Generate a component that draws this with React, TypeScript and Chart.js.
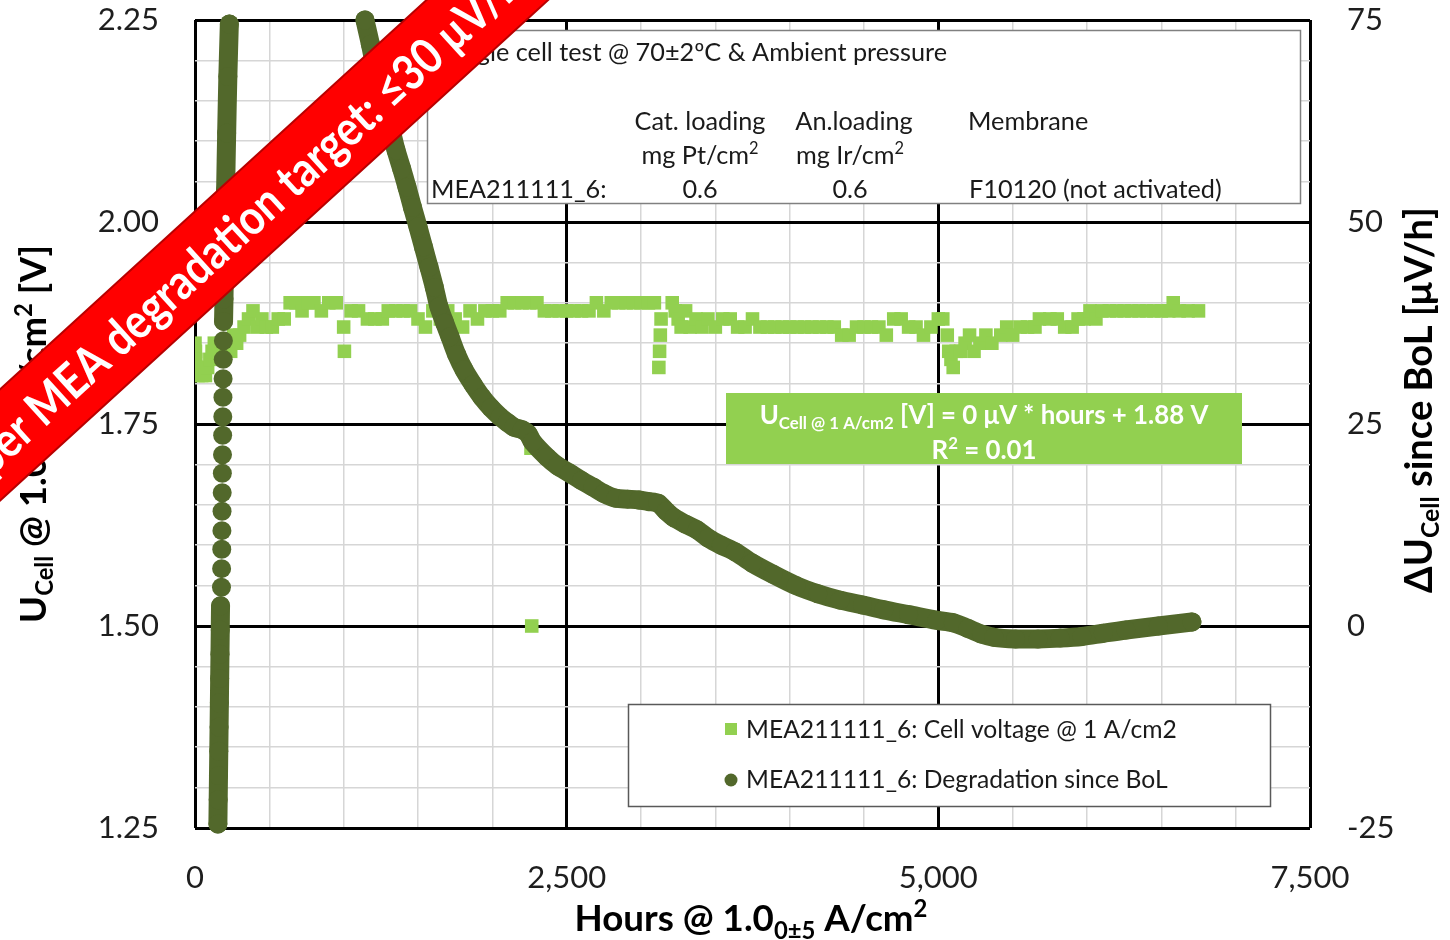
import React, { useEffect, useRef } from 'react';
import { Chart, registerables } from 'chart.js';

Chart.register(...registerables);

const FONT = 'Lato, "Open Sans", "DejaVu Sans", sans-serif';

// ---- axes ----
const X_MIN = 0;
const X_MAX = 7500;
const X_MAJOR = 2500;
const X_MINOR = 500;
const YL_MIN = 1.25;
const YL_MAX = 2.25;
const YL_MAJOR = 0.25;
const YL_MINOR = 0.05;
const YR_MIN = -25;
const YR_MAX = 75;
const YR_STEP = 25;

// ---- series 1: cell voltage @ 1 A/cm2 [V] (left axis) ----
const voltageHours = [
  0, 3, 6, 10, 20, 45, 70, 85, 100, 115, 130, 150, 175, 200, 225, 240, 260, 280, 300, 330,
  360, 390, 420, 450, 480, 520, 560, 600, 640, 680, 720, 760, 800, 850, 900, 950, 1000, 1005,
  1050, 1100, 1160, 1210, 1260, 1300, 1350, 1400, 1450, 1500, 1550, 1600, 1650, 1700, 1750,
  1800, 1850, 1900, 1950, 2000, 2050, 2100, 2150, 2200, 2250, 2260, 2265, 2300, 2350, 2400,
  2450, 2500, 2550, 2600, 2650, 2700, 2750, 2800, 2850, 2900, 2950, 3000, 3050, 3090, 3120,
  3125, 3130, 3135, 3210, 3230, 3250, 3270, 3300, 3330, 3370, 3410, 3450, 3500, 3550, 3600,
  3650, 3700, 3750, 3800, 3850, 3900, 3950, 4000, 4050, 4100, 4150, 4200, 4250, 4300, 4350,
  4400, 4450, 4500, 4550, 4600, 4650, 4700, 4750, 4800, 4850, 4900, 4950, 5000, 5030, 5060,
  5070, 5085, 5100, 5120, 5150, 5180, 5210, 5240, 5280, 5320, 5360, 5420, 5460, 5500, 5550,
  5600, 5650, 5680, 5750, 5800, 5850, 5900, 5940, 5980, 6020, 6060, 6100, 6150, 6200, 6250,
  6300, 6350, 6400, 6450, 6500, 6550, 6580, 6620, 6680, 6750,
];
const voltageValues = [
  1.85, 1.84, 1.83, 1.82, 1.81, 1.81, 1.81, 1.82, 1.83, 1.84, 1.85, 1.84, 1.85, 1.84, 1.85, 1.84, 1.86, 1.85, 1.86, 1.87,
  1.88, 1.89, 1.87, 1.88, 1.87, 1.87, 1.88, 1.88, 1.90, 1.90, 1.89, 1.90, 1.90, 1.89, 1.90, 1.90, 1.87, 1.84,
  1.89, 1.89, 1.88, 1.88, 1.88, 1.89, 1.89, 1.89, 1.89, 1.88, 1.87, 1.89, 1.88, 1.89, 1.88,
  1.87, 1.89, 1.88, 1.89, 1.89, 1.89, 1.90, 1.90, 1.90, 1.90, 1.72, 1.50, 1.90, 1.89, 1.89,
  1.89, 1.89, 1.89, 1.89, 1.89, 1.90, 1.89, 1.90, 1.90, 1.90, 1.90, 1.90, 1.90, 1.90, 1.82,
  1.84, 1.86, 1.88, 1.90, 1.89, 1.88, 1.87, 1.89, 1.87, 1.88, 1.87, 1.88, 1.87, 1.88, 1.88,
  1.87, 1.87, 1.88, 1.87, 1.87, 1.87, 1.87, 1.87, 1.87, 1.87, 1.87, 1.87, 1.87, 1.87, 1.86,
  1.86, 1.87, 1.87, 1.87, 1.87, 1.86, 1.88, 1.88, 1.87, 1.87, 1.86, 1.87, 1.88, 1.88, 1.86,
  1.84, 1.83, 1.82, 1.84, 1.84, 1.85, 1.86, 1.84, 1.85, 1.86, 1.85, 1.86, 1.87, 1.86, 1.87,
  1.87, 1.87, 1.88, 1.88, 1.88, 1.87, 1.87, 1.88, 1.88, 1.89, 1.88, 1.89, 1.89, 1.89, 1.89,
  1.89, 1.89, 1.89, 1.89, 1.89, 1.89, 1.90, 1.89, 1.89, 1.89,
];

// ---- series 2: degradation since BoL [µV/h] (right axis) ----
const degradationHours = [
  154, 156, 158, 160, 162, 164, 166, 168, 170, 172,
  178, 179, 180, 181, 182, 183, 184, 185, 186, 187, 188, 189, 190, 191, 192,
  195, 200, 206, 213, 221, 231,
  700,
  1143, 1180, 1211, 1250, 1285, 1320, 1352, 1390, 1426, 1463, 1500, 1537, 1574, 1610, 1641,
  1680, 1715, 1760, 1810, 1870, 1930, 1990, 2052, 2100, 2146, 2200, 2240, 2270, 2368, 2440,
  2522, 2600, 2677, 2750, 2832, 2910, 2987, 3050, 3114, 3170, 3222, 3300, 3377, 3451, 3540,
  3632, 3747, 3888, 4043, 4190, 4339, 4490, 4634, 4800, 4991, 5100, 5199, 5290, 5374, 5520,
  5670, 5820, 5966, 6110, 6262, 6480, 6706,
];
const degradationValues = [
  -24.5, -21.5, -18.5, -15.5, -12.5, -9.5, -6.5, -3.5, -0.5, 2.5,
  4.8, 7.1, 9.5, 11.8, 14.2, 16.5, 18.9, 21.2, 23.6, 25.9, 28.3, 30.6, 33.0, 35.3, 37.7,
  40.5, 47, 54, 61, 68, 74.5,
  null,
  75.0, 72.0, 69.2, 66.5, 63.9, 61.3, 58.9, 56.6, 54.3, 51.8, 49.4, 46.9, 44.4, 41.9, 39.5,
  37.5, 35.8, 33.6, 31.7, 29.9, 28.3, 27.0, 25.9, 25.2, 24.6, 24.3, 23.8, 22.8, 20.9, 19.8,
  18.9, 18.0, 17.2, 16.4, 15.8, 15.7, 15.6, 15.4, 15.2, 14.2, 13.4, 12.6, 11.9, 10.9, 10.0,
  9.2, 7.8, 6.4, 5.0, 4.0, 3.2, 2.6, 2.0, 1.4, 0.7, 0.4, -0.3, -1.0, -1.4, -1.6,
  -1.6, -1.5, -1.3, -0.9, -0.5, 0.0, 0.5,
];

const GREEN = '#92D050';
const OLIVE = '#52682B';
const TICK_COLOR = '#1e1e1e';

type Seg = { t: string; s?: 'sub' | 'sup' };

const isMult = (v: number, step: number) => Math.abs(v / step - Math.round(v / step)) < 1e-6;

function segFont(size: number, weight: string, s?: string) {
  const sz = s ? size * 0.65 : size;
  return `${weight} ${sz}px ${FONT}`;
}
function richWidth(ctx: CanvasRenderingContext2D, segs: Seg[], size: number, weight: string) {
  let w = 0;
  for (const g of segs) {
    ctx.font = segFont(size, weight, g.s);
    w += ctx.measureText(g.t).width;
  }
  return w;
}
function fitSize(ctx: CanvasRenderingContext2D, segs: Seg[], target: number, weight: string) {
  return (100 * target) / richWidth(ctx, segs, 100, weight);
}
function drawRich(
  ctx: CanvasRenderingContext2D,
  segs: Seg[],
  x: number,
  yMid: number,
  size: number,
  weight: string,
  color: string,
  align: 'left' | 'center' | 'right'
) {
  const total = richWidth(ctx, segs, size, weight);
  let cx = align === 'center' ? x - total / 2 : align === 'right' ? x - total : x;
  const base = yMid + size * 0.36;
  ctx.fillStyle = color;
  ctx.textAlign = 'left';
  ctx.textBaseline = 'alphabetic';
  for (const g of segs) {
    ctx.font = segFont(size, weight, g.s);
    const dy = g.s === 'sub' ? size * 0.2 : g.s === 'sup' ? -size * 0.38 : 0;
    ctx.fillText(g.t, cx, base + dy);
    cx += ctx.measureText(g.t).width;
  }
}

const xTitle: Seg[] = [{ t: 'Hours @ 1.0' }, { t: '0±5', s: 'sub' }, { t: ' A/cm' }, { t: '2', s: 'sup' }];
const yLeftTitle: Seg[] = [
  { t: 'U' }, { t: 'Cell', s: 'sub' }, { t: ' @ 1.0' }, { t: '0±5', s: 'sub' },
  { t: ' A/cm' }, { t: '2', s: 'sup' }, { t: ' [V]' },
];
const yRightTitle: Seg[] = [{ t: 'ΔU' }, { t: 'Cell', s: 'sub' }, { t: ' since BoL [μV/h]' }];
const regLine1: Seg[] = [
  { t: 'U' }, { t: 'Cell @ 1 A/cm2', s: 'sub' }, { t: ' [V] = 0 μV * hours + 1.88 V' },
];
const regLine2: Seg[] = [{ t: 'R' }, { t: '2', s: 'sup' }, { t: ' = 0.01' }];

const overlayPlugin = {
  id: 'overlay',
  afterDatasetsDraw(chart: any) {
    const ctx: CanvasRenderingContext2D = chart.ctx;
    ctx.save();
    // info box
    ctx.fillStyle = '#ffffff';
    ctx.fillRect(427, 30, 873, 173);
    ctx.strokeStyle = '#808080';
    ctx.lineWidth = 1.5;
    ctx.strokeRect(427.5, 30.5, 873, 173);
    const infoSize = fitSize(ctx, [{ t: 'Cat. loading' }], 131, '400');
    const txt = '#1a1a1a';
    drawRich(ctx, [{ t: 'Single cell test @ 70±2ºC & Ambient pressure' }], 947, 52, infoSize, '400', txt, 'right');
    drawRich(ctx, [{ t: 'Cat. loading' }], 700, 121, infoSize, '400', txt, 'center');
    drawRich(ctx, [{ t: 'An.loading' }], 854, 121, infoSize, '400', txt, 'center');
    drawRich(ctx, [{ t: 'Membrane' }], 968, 121, infoSize, '400', txt, 'left');
    drawRich(ctx, [{ t: 'mg Pt/cm' }, { t: '2', s: 'sup' }], 700, 155, infoSize, '400', txt, 'center');
    drawRich(ctx, [{ t: 'mg Ir/cm' }, { t: '2', s: 'sup' }], 850, 155, infoSize, '400', txt, 'center');
    drawRich(ctx, [{ t: 'MEA211111_6:' }], 431, 189, infoSize, '400', txt, 'left');
    drawRich(ctx, [{ t: '0.6' }], 700, 189, infoSize, '400', txt, 'center');
    drawRich(ctx, [{ t: '0.6' }], 850, 189, infoSize, '400', txt, 'center');
    drawRich(ctx, [{ t: 'F10120 (not activated)' }], 969, 189, infoSize, '400', txt, 'left');

    // regression box
    ctx.fillStyle = GREEN;
    ctx.fillRect(726, 393, 516, 71);
    const regSize = fitSize(ctx, regLine1, 449, '700');
    drawRich(ctx, regLine1, 984, 415, regSize, '700', '#ffffff', 'center');
    drawRich(ctx, regLine2, 984, 450, regSize, '700', '#ffffff', 'center');

    // legend box
    ctx.fillStyle = '#ffffff';
    ctx.fillRect(628, 704, 642, 102);
    ctx.strokeStyle = '#595959';
    ctx.lineWidth = 1.5;
    ctx.strokeRect(628.5, 704.5, 642, 102);
    const labelV = chart.data.datasets[1].label as string;
    const labelD = chart.data.datasets[0].label as string;
    const legSize = fitSize(ctx, [{ t: labelV }], 431, '400');
    ctx.fillStyle = GREEN;
    ctx.fillRect(725, 723, 12, 12);
    ctx.fillStyle = OLIVE;
    ctx.beginPath();
    ctx.arc(731, 780, 6.5, 0, Math.PI * 2);
    ctx.fill();
    drawRich(ctx, [{ t: labelV }], 746, 729, legSize, '400', txt, 'left');
    drawRich(ctx, [{ t: labelD }], 746, 779, legSize, '400', txt, 'left');
    ctx.restore();
  },
  afterDraw(chart: any) {
    const ctx: CanvasRenderingContext2D = chart.ctx;
    ctx.save();
    // axis titles
    const xs = fitSize(ctx, xTitle, 353, '700');
    drawRich(ctx, xTitle, 751, 918, xs, '700', '#000', 'center');
    const yls = fitSize(ctx, yLeftTitle, 378, '700');
    ctx.save();
    ctx.translate(33, 434);
    ctx.rotate(-Math.PI / 2);
    drawRich(ctx, yLeftTitle, 0, 0, yls, '700', '#000', 'center');
    ctx.restore();
    const yrs = fitSize(ctx, yRightTitle, 386, '700');
    ctx.save();
    ctx.translate(1418, 400);
    ctx.rotate(-Math.PI / 2);
    drawRich(ctx, yRightTitle, 0, 0, yrs, '700', '#000', 'center');
    ctx.restore();

    // red banner
    ctx.save();
    ctx.translate(0, 445);
    ctx.rotate((-42.4 * Math.PI) / 180);
    ctx.fillStyle = '#FF0000';
    ctx.fillRect(-300, -41, 1400, 82);
    ctx.strokeStyle = '#B80000';
    ctx.lineWidth = 2;
    ctx.beginPath();
    ctx.moveTo(-300, -41);
    ctx.lineTo(1100, -41);
    ctx.moveTo(-300, 41);
    ctx.lineTo(1100, 41);
    ctx.stroke();
    const condense = 0.86;
    const mainPart = 'MEA degradation target:';
    const bs = fitSize(ctx, [{ t: mainPart }], 462, '700') / condense;
    ctx.font = `700 ${bs}px ${FONT}`;
    const prefix = 'Paper ';
    const startX = 44 - ctx.measureText(prefix).width * condense;
    ctx.translate(startX, bs * 0.36);
    ctx.scale(condense, 1);
    ctx.fillStyle = '#ffffff';
    ctx.textAlign = 'left';
    ctx.textBaseline = 'alphabetic';
    ctx.fillText(prefix + mainPart + ' ≤30 μV/h', 0, 0);
    ctx.restore();
    ctx.restore();
  },
};

export default function App() {
  const ref = useRef<HTMLCanvasElement | null>(null);

  useEffect(() => {
    if (!ref.current) return;
    const gridColor = (ctx: any, step: number) =>
      ctx.tick && isMult(ctx.tick.value, step) ? '#000000' : '#D6D6D6';
    const gridWidth = (ctx: any, step: number) => (ctx.tick && isMult(ctx.tick.value, step) ? 3 : 1.5);
    const tickFont = { family: FONT, size: 31, weight: 'normal' as const };

    const chart = new Chart(ref.current, {
      type: 'scatter',
      data: {
        datasets: [
          {
            label: 'MEA211111_6: Degradation since BoL',
            data: degradationHours.map((h, i) => ({ x: h, y: degradationValues[i] as any })),
            yAxisID: 'yR',
            showLine: true,
            borderColor: OLIVE,
            backgroundColor: OLIVE,
            borderWidth: 19,
            borderCapStyle: 'round',
            borderJoinStyle: 'round',
            tension: 0.3,
            spanGaps: false,
            pointStyle: 'circle',
            pointRadius: 9.5,
            pointHoverRadius: 9.5,
            pointBorderWidth: 0,
            clip: false as any,
            segment: {
              borderColor: (c: any) =>
                c.p0.parsed.x < 1000 && c.p0.parsed.y >= 2.4 && c.p1.parsed.y <= 38 ? 'rgba(0,0,0,0)' : undefined,
            },
          } as any,
          {
            label: 'MEA211111_6: Cell voltage @ 1 A/cm2',
            data: voltageHours.map((h, i) => ({ x: h, y: voltageValues[i] })),
            yAxisID: 'y',
            showLine: false,
            pointStyle: 'rect',
            pointRadius: 9.6,
            pointHoverRadius: 9.6,
            backgroundColor: GREEN,
            borderColor: GREEN,
            pointBorderWidth: 0,
          } as any,
        ],
      },
      options: {
        responsive: false,
        animation: false,
        devicePixelRatio: 1,
        events: [],
        layout: { padding: { top: 20, left: 0, right: 0, bottom: 0 } },
        plugins: {
          legend: { display: false },
          tooltip: { enabled: false },
          title: { display: false },
        },
        scales: {
          x: {
            type: 'linear',
            position: 'bottom',
            min: X_MIN,
            max: X_MAX,
            ticks: {
              stepSize: X_MINOR,
              autoSkip: false,
              maxRotation: 0,
              padding: 31,
              color: TICK_COLOR,
              font: tickFont,
              callback: (v: any) => (isMult(Number(v), X_MAJOR) ? Number(v).toLocaleString('en-US') : ''),
            },
            grid: {
              color: (c: any) => gridColor(c, X_MAJOR),
              lineWidth: (c: any) => gridWidth(c, X_MAJOR),
              drawTicks: false,
            },
            border: { display: false },
            afterFit: (s: any) => {
              s.height = 112;
              s.paddingLeft = 0;
              s.paddingRight = 0;
            },
          },
          y: {
            type: 'linear',
            position: 'left',
            min: YL_MIN,
            max: YL_MAX,
            ticks: {
              stepSize: YL_MINOR,
              autoSkip: false,
              padding: 36,
              color: TICK_COLOR,
              font: tickFont,
              callback: (v: any) => (isMult(Number(v), YL_MAJOR) ? Number(v).toFixed(2) : ''),
            },
            grid: {
              color: (c: any) => gridColor(c, YL_MAJOR),
              lineWidth: (c: any) => gridWidth(c, YL_MAJOR),
              drawTicks: false,
            },
            border: { display: false },
            afterFit: (s: any) => {
              s.width = 195;
              s.paddingTop = 0;
              s.paddingBottom = 0;
            },
          },
          yR: {
            type: 'linear',
            position: 'right',
            min: YR_MIN,
            max: YR_MAX,
            ticks: {
              stepSize: YR_STEP,
              autoSkip: false,
              padding: 37,
              color: TICK_COLOR,
              font: tickFont,
              callback: (v: any) => String(Math.round(Number(v))),
            },
            grid: { display: false, drawTicks: false },
            border: { display: false },
            afterFit: (s: any) => {
              s.width = 140;
              s.paddingTop = 0;
              s.paddingBottom = 0;
            },
          },
        },
      } as any,
      plugins: [overlayPlugin],
    });
    return () => chart.destroy();
  }, []);

  return (
    <div style={{ position: 'absolute', left: 0, top: 0, width: 1450, height: 940, background: '#ffffff' }}>
      <canvas ref={ref} width={1450} height={940} style={{ display: 'block', width: 1450, height: 940 }} />
    </div>
  );
}
